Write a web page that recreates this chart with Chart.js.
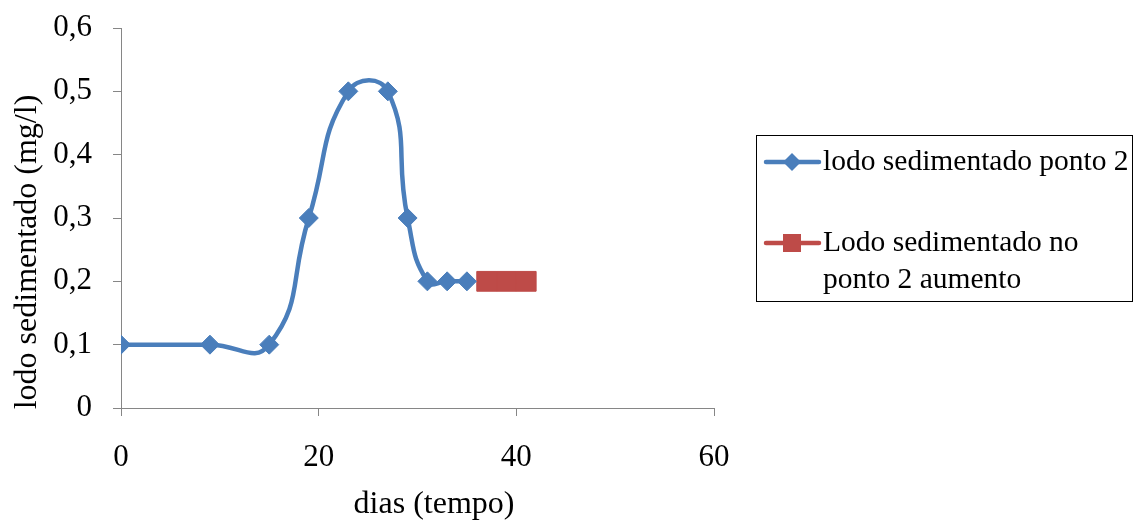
<!DOCTYPE html>
<html>
<head>
<meta charset="utf-8">
<script src="https://cdn.jsdelivr.net/npm/chart.js@4.4.0/dist/chart.umd.min.js"></script>
<style>
body{margin:0;background:#fff;}
</style>
</head>
<body>
<canvas id="chart1" width="1134" height="522"></canvas>
<script>
// dados
var dias = [0, 9, 15, 19, 23, 27, 29, 31, 33, 35]
var lodoPonto2 = [0.1, 0.1, 0.1, 0.3, 0.5, 0.5, 0.3, 0.2, 0.2, 0.2]
var diasAumento = [37, 39, 41]
var lodoAumento = [0.2, 0.2, 0.2]
var xTicks = [0, 20, 40, 60]
var yTicks = [0, 0.1, 0.2, 0.3, 0.4, 0.5, 0.6]
var nomes = ["lodo sedimentado ponto 2", "Lodo sedimentado no ponto 2 aumento"]
var legendaLinhas = [["lodo sedimentado ponto 2"], ["Lodo sedimentado no", "ponto 2 aumento"]]
var tituloX = "dias (tempo)"
var tituloY = "lodo sedimentado (mg/l)"

var azul = "#4A7EBB"
var vermelho = "#BE4B48"
var fonteTitulo = "32px 'Liberation Serif', 'Times New Roman', serif"
var fonteLegenda = "29.5px 'Liberation Serif', 'Times New Roman', serif"

function pares(xs, ys){
    var out = []
    for (var i = 0; i < xs.length; i++){
        out.push({x: xs[i], y: ys[i]})
    }
    return out
}

// legenda e titulos desenhados a mao
var extras = {
    id: 'extras',
    afterDraw: function(chart){
        var ctx = chart.ctx
        ctx.save()
        ctx.fillStyle = "#000"
        ctx.font = fonteTitulo
        ctx.textAlign = "center"
        ctx.textBaseline = "middle"
        ctx.fillText(tituloX, 434, 505)
        ctx.save()
        ctx.translate(28, 252)
        ctx.rotate(-Math.PI / 2)
        ctx.fillText(tituloY, 0, 0)
        ctx.restore()

        // caixa da legenda
        ctx.strokeStyle = "#000"
        ctx.lineWidth = 1
        ctx.strokeRect(756.5, 135.5, 376, 166)

        ctx.font = fonteLegenda
        var ys = [162, 243]
        var cores = [azul, vermelho]
        for (var i = 0; i < 2; i++){
            var y = ys[i]
            ctx.strokeStyle = cores[i]
            ctx.lineWidth = 4.5
            ctx.lineCap = "round"
            ctx.beginPath()
            ctx.moveTo(766, y)
            ctx.lineTo(819, y)
            ctx.stroke()
            ctx.fillStyle = cores[i]
            ctx.beginPath()
            if (i == 0){
                ctx.moveTo(792, y - 9)
                ctx.lineTo(801, y)
                ctx.lineTo(792, y + 9)
                ctx.lineTo(783, y)
            } else {
                ctx.rect(783, y - 9, 18, 18)
            }
            ctx.closePath()
            ctx.fill()
            ctx.fillStyle = "#000"
            ctx.textAlign = "left"
            for (var j = 0; j < legendaLinhas[i].length; j++){
                ctx.fillText(legendaLinhas[i][j], 823, y + j * 37)
            }
        }
        ctx.restore()
    }
}

const chart1 = document.getElementById("chart1")
new Chart(chart1, {
    type: 'line',
    data: {
        datasets: [{
            label: nomes[0],
            data: pares(dias, lodoPonto2),
            borderColor: azul,
            backgroundColor: azul,
            borderWidth: 4.5,
            tension: 0.5,
            pointStyle: 'rectRot',
            pointRadius: 9.5,
            pointBorderWidth: 1,
            pointBorderColor: azul
        }, {
            label: nomes[1],
            data: pares(diasAumento, lodoAumento),
            borderColor: vermelho,
            backgroundColor: vermelho,
            borderWidth: 4.5,
            pointStyle: 'rect',
            pointRadius: 14,
            pointBorderWidth: 1,
            pointBorderColor: vermelho
        }]
    },
    options: {
        responsive: false,
        animation: false,
        layout: {padding: {left: 0, top: 28, right: 420, bottom: 0}},
        plugins: {legend: {display: false}, tooltip: {enabled: false}},
        scales: {
            x: {
                type: 'linear',
                min: 0, max: 60,
                afterBuildTicks: function(s){ s.ticks = xTicks.map(function(v){ return {value: v} }) },
                afterFit: function(s){ s.height = 114 },
                grid: {drawOnChartArea: false, tickLength: 8, color: "#868686"},
                border: {color: "#868686", width: 1},
                ticks: {color: "#000", font: {family: "'Liberation Serif'", size: 31}, padding: 23, maxRotation: 0}
            },
            y: {
                min: 0, max: 0.6,
                afterBuildTicks: function(s){ s.ticks = yTicks.map(function(v){ return {value: v} }) },
                afterFit: function(s){
                    s.width = 121
                    // nao deixar o padding dos rotulos empurrar a area do grafico
                    s.paddingTop = 0
                    s.paddingBottom = 0
                },
                grid: {drawOnChartArea: false, tickLength: 8, color: "#868686"},
                border: {color: "#868686", width: 1},
                ticks: {
                    color: "#000",
                    font: {family: "'Liberation Serif'", size: 31},
                    padding: 21,
                    callback: function(v){ return String(Math.round(v * 10) / 10).replace('.', ',') }
                }
            }
        }
    },
    plugins: [extras]
});
</script>
</body>
</html>
